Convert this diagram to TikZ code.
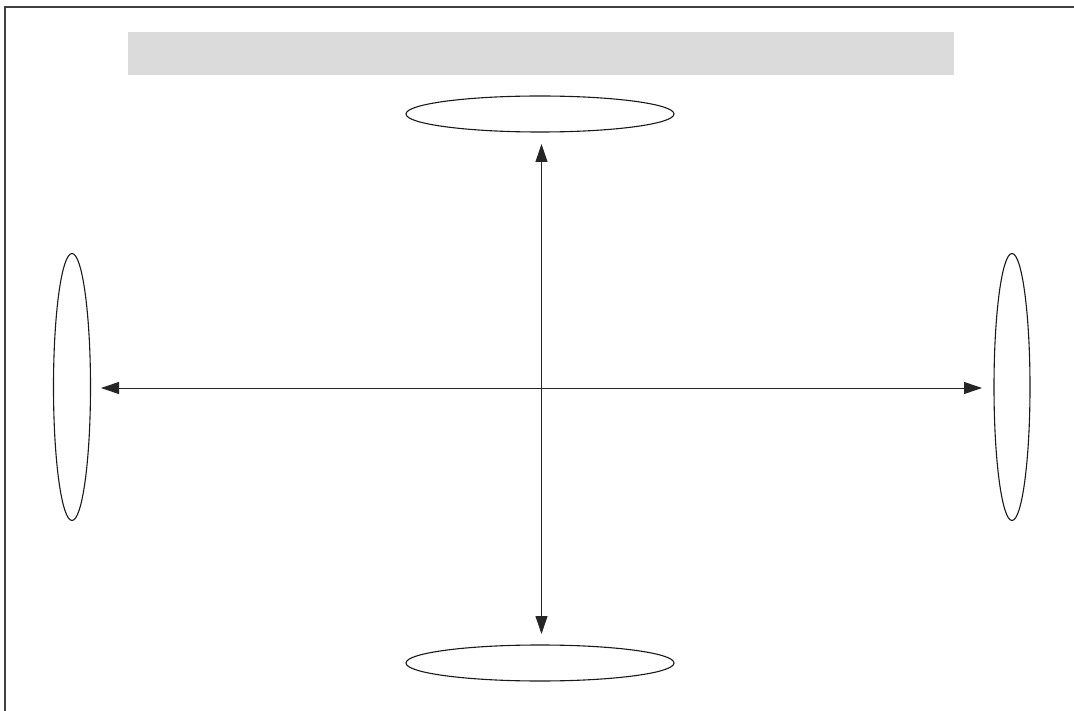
\documentclass[tikz,border=0pt]{standalone}
\usetikzlibrary{shapes.geometric,arrows.meta}
\begin{document}
\begin{tikzpicture}[x=1pt,y=-1pt,
  oval/.style={draw=black!90,ellipse,inner sep=0pt,line width=1.1pt},
  conn/.style={draw=black!85,line width=1pt,{Triangle[length=18pt,width=12pt]}-{Triangle[length=18pt,width=12pt]}},
  frameline/.style={draw=black!75,line width=2pt}]
\useasboundingbox (0,0) rectangle (1074,711);
\fill[white] (0,0) rectangle (1074,711);
\coordinate (fl) at (5,711);
\coordinate (fc) at (5,7);
\coordinate (fr) at (1074,7);
\draw[frameline] (fl) -- (fc) -- (fr);
\node[fill=black!14,minimum width=826pt,minimum height=43pt,inner sep=0pt] (bar) at (541,53.5) {};
\node[oval,minimum width=268pt,minimum height=36pt] (top) at (540,114) {};
\node[oval,minimum width=268pt,minimum height=36pt] (bot) at (540,663) {};
\node[oval,minimum width=37pt,minimum height=267pt] (left) at (72,387) {};
\node[oval,minimum width=36pt,minimum height=267pt] (right) at (1012,387) {};
\coordinate (tt) at (541.5,144);
\coordinate (bb) at (541.5,634);
\coordinate (ll) at (101,388);
\coordinate (rr) at (982,388);
\draw[conn] (tt) -- (bb);
\draw[conn] (ll) -- (rr);
\end{tikzpicture}
\end{document}
